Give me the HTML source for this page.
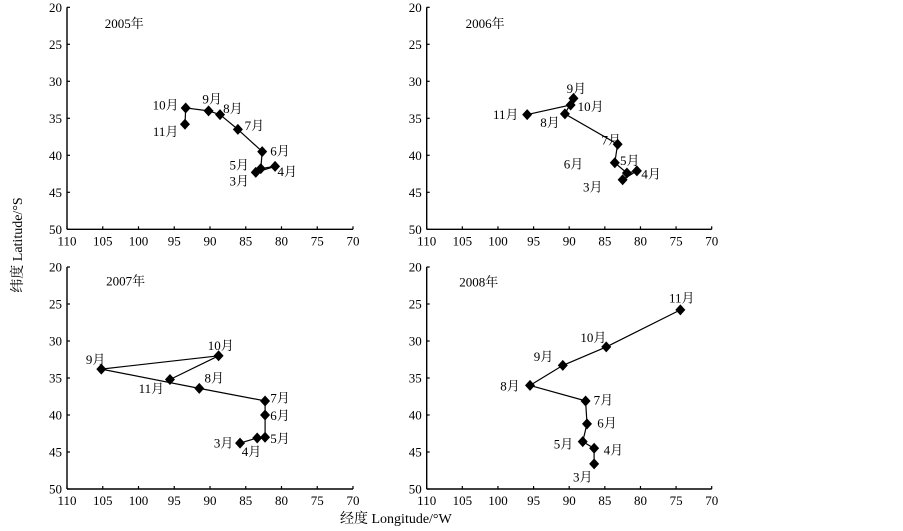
<!DOCTYPE html>
<html><head><meta charset="utf-8">
<style>
html,body{margin:0;padding:0;background:#fff;}
svg{display:block;}
text{font-family:"Liberation Serif","Noto Serif CJK SC","Noto Sans CJK SC",serif;fill:#000;}
</style></head>
<body>
<svg id="s" width="903" height="531" viewBox="0 0 903 531" xmlns="http://www.w3.org/2000/svg">
<text x="340" y="523" font-size="14">经度 Longitude/°W</text>
<text transform="translate(22,245) rotate(-90)" font-size="14" text-anchor="middle">纬度 Latitude/°S</text>
</svg>
<script>
var svg=document.getElementById('s');
var NS='http://www.w3.org/2000/svg';
function el(n,a,t){var e=document.createElementNS(NS,n);for(var k in a)e.setAttribute(k,a[k]);if(t!==undefined)e.textContent=t;svg.appendChild(e);return e;}
var panels=[
 {x0:67,x1:353,y0:7.3,y1:229.3,title:[102,22.2,'2005年'],
  pts:[[83.6,42.3],[80.9,41.5],[82.9,41.8],[82.7,39.5],[86.1,36.5],[88.6,34.5],[90.2,34.0],[93.4,33.6],[93.5,35.8]],
  lab:[[85.9,43.5],[79.2,42.2],[85.9,41.3],[80.2,39.4],[83.8,36.0],[86.8,33.7],[89.7,32.4],[96.2,33.2],[96.2,36.8]]},
 {x0:426.7,x1:711.7,y0:7.3,y1:229.3,title:[101.8,22.2,'2006年'],
  pts:[[82.5,43.3],[80.5,42.1],[81.9,42.4],[83.6,41.0],[83.2,38.5],[90.6,34.4],[89.4,32.3],[89.8,33.2],[95.9,34.5]],
  lab:[[86.7,44.3],[78.5,42.5],[81.5,40.7],[89.4,41.2],[84.1,37.9],[92.7,35.6],[89.0,31.0],[87.0,33.4],[98.9,34.5]]},
 {x0:67,x1:353,y0:267,y1:489,title:[101.8,21.9,'2007年'],
  pts:[[85.8,43.8],[83.4,43.1],[82.3,43.0],[82.3,40.0],[82.3,38.1],[91.5,36.4],[105.2,33.8],[88.8,32.0],[95.6,35.2]],
  lab:[[88.1,43.8],[84.2,44.9],[80.2,43.2],[80.2,40.1],[80.2,37.7],[89.4,35.0],[106.0,32.5],[88.5,30.6],[98.2,36.4]]},
 {x0:426.7,x1:711.7,y0:267,y1:489,title:[102.7,22.0,'2008年'],
  pts:[[86.5,46.6],[86.5,44.5],[88.1,43.6],[87.5,41.2],[87.7,38.1],[95.5,36.0],[90.9,33.3],[84.8,30.8],[74.4,25.8]],
  lab:[[88.1,48.4],[83.8,44.7],[90.8,43.9],[84.7,41.1],[85.2,38.0],[98.3,36.1],[93.6,32.1],[86.6,29.5],[74.2,24.2]]}
];
var months=['3月','4月','5月','6月','7月','8月','9月','10月','11月'];
panels.forEach(function(p){
 function X(v){return p.x0+(110-v)/40*(p.x1-p.x0);}
 function Y(v){return p.y0+(v-20)/30*(p.y1-p.y0);}
 el('line',{x1:p.x0,y1:p.y0,x2:p.x0,y2:p.y1,stroke:'#000','stroke-width':1.4});
 el('line',{x1:p.x0,y1:p.y1,x2:p.x1,y2:p.y1,stroke:'#000','stroke-width':1.4});
 for(var v=20;v<=50;v+=5){var y=Y(v);
  el('line',{x1:p.x0,y1:y,x2:p.x0+3,y2:y,stroke:'#000','stroke-width':1.2});
  el('text',{x:p.x0-5,y:y+4.5,'font-size':13,'text-anchor':'end'},String(v));}
 for(var v=110;v>=70;v-=5){var x=X(v);
  el('line',{x1:x,y1:p.y1,x2:x,y2:p.y1-3,stroke:'#000','stroke-width':1.2});
  el('text',{x:x,y:p.y1+16,'font-size':13,'text-anchor':'middle'},String(v));}
 el('text',{x:X(p.title[0]),y:Y(p.title[1])+4.5,'font-size':13,'text-anchor':'middle'},p.title[2]);
 var d=p.pts.map(function(q,i){return (i?'L':'M')+X(q[0]).toFixed(1)+' '+Y(q[1]).toFixed(1);}).join(' ');
 el('path',{d:d,fill:'none',stroke:'#000','stroke-width':1.2});
 p.pts.forEach(function(q){var x=X(q[0]),y=Y(q[1]);
  el('polygon',{points:(x)+','+(y-5.5)+' '+(x+5)+','+y+' '+x+','+(y+5.5)+' '+(x-5)+','+y,fill:'#000'});});
 p.lab.forEach(function(q,i){el('text',{x:X(q[0]),y:Y(q[1])+4.5,'font-size':13,'text-anchor':'middle'},months[i]);});
});
</script>
</body></html>
